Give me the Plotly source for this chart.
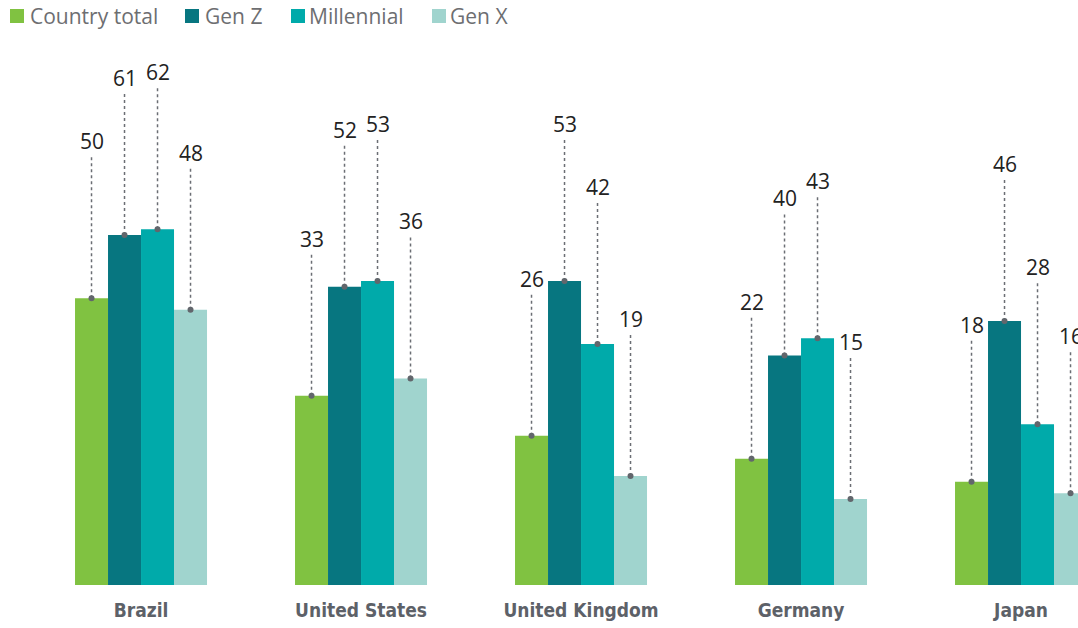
import plotly.graph_objects as go

countries = ["Brazil", "United States", "United Kingdom", "Germany", "Japan"]
series_names = ["Country total", "Gen Z", "Millennial", "Gen X"]
country_total = [50, 33, 26, 22, 18]
gen_z = [61, 52, 53, 40, 46]
millennial = [62, 53, 42, 43, 28]
gen_x = [48, 36, 19, 15, 16]

colors = ["#80c241", "#077680", "#00aaaa", "#a0d4ce"]
values = [country_total, gen_z, millennial, gen_x]

LEAD = 24.6          # length of the dotted leader above each bar (data units)
BAR_W = 0.15
offsets = [-0.225, -0.075, 0.075, 0.225]

PLOT_W = 1078
PLOT_TOP, PLOT_BOT = 40, 585

fig = go.Figure()
x_idx = list(range(len(countries)))

# bars
for name, vals, col in zip(series_names, values, colors):
    fig.add_trace(go.Bar(
        x=x_idx, y=vals, name=name, marker=dict(color=col, line=dict(width=0)),
        width=BAR_W, hoverinfo="skip", showlegend=False
    ))

# dotted leaders, dots and value labels
for vals, off in zip(values, offsets):
    for i, v in enumerate(vals):
        xi = i + off
        fig.add_trace(go.Scatter(
            x=[xi, xi], y=[v, v + LEAD], mode="lines",
            line=dict(color="#6b6e74", width=1.5, dash="dot"),
            showlegend=False, hoverinfo="skip"
        ))
        fig.add_trace(go.Scatter(
            x=[xi], y=[v], mode="markers",
            marker=dict(color="#62666c", size=6),
            showlegend=False, hoverinfo="skip"
        ))
        fig.add_annotation(
            x=xi, y=v + LEAD, text=str(v), showarrow=False,
            yanchor="bottom", xanchor="center",
            font=dict(family="Open Sans", size=21, color="#222222")
        )

# hand-made legend (square + label), positions in px
legend_sq_x = [10, 185, 291, 432]
legend_tx_x = [28, 203, 307, 448]
ph = PLOT_BOT - PLOT_TOP
for name, col, sx, tx in zip(series_names, colors, legend_sq_x, legend_tx_x):
    fig.add_shape(
        type="rect", xref="paper", yref="paper",
        x0=sx / PLOT_W, x1=(sx + 14) / PLOT_W,
        y0=(PLOT_BOT - 23) / ph, y1=(PLOT_BOT - 9) / ph,
        fillcolor=col, line=dict(width=0)
    )
    fig.add_annotation(
        xref="paper", yref="paper", x=tx / PLOT_W, y=(PLOT_BOT - 16) / ph,
        text=name, showarrow=False, xanchor="left", yanchor="middle",
        font=dict(family="Open Sans", size=21, color="#6d6e71")
    )

fig.update_layout(
    width=1078, height=628,
    barmode="group", bargap=0.4, bargroupgap=0,
    plot_bgcolor="white", paper_bgcolor="white",
    margin=dict(l=0, r=0, t=PLOT_TOP, b=628 - PLOT_BOT),
    font=dict(family="Open Sans", color="#6c6e70"),
    showlegend=False,
    xaxis=dict(
        range=[-0.641, 4.259], tickmode="array", tickvals=x_idx,
        ticktext=[f"<b>{c}</b>" for c in countries],
        tickfont=dict(family="Liberation Sans Narrow, DejaVu Sans Condensed", size=19, color="#5d6168"),
        showgrid=False, zeroline=False, showline=False, ticks="",
        ticklabelstandoff=12
    ),
    yaxis=dict(range=[0, 95], visible=False, showgrid=False, zeroline=False),
)

# drop the default 8px page margin so the 1078x628 figure fills the window
fig.write_html(
    "out.html",
    config={"displayModeBar": False},
    post_script="document.body.style.margin='0';document.body.style.overflow='hidden';"
)
